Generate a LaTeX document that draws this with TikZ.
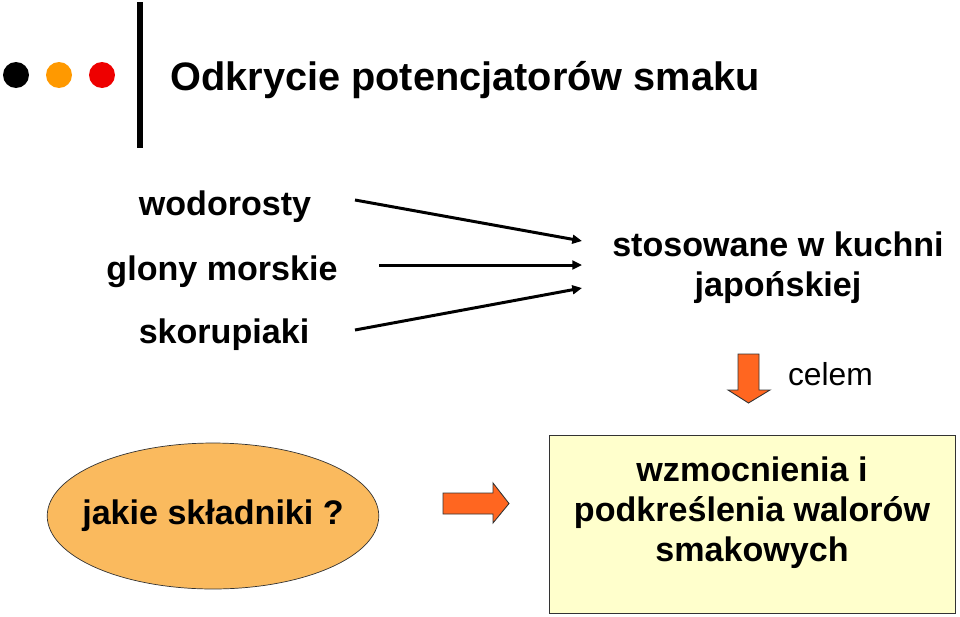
\documentclass[tikz,border=0pt]{standalone}
\usepackage{fontspec}
\setmainfont{Liberation Sans}
\usepackage{xcolor}
\usepackage{tikz}
\usetikzlibrary{positioning,shapes,arrows.meta}

\definecolor{dotorange}{RGB}{255,153,0}
\definecolor{dotred}{RGB}{238,0,0}
\definecolor{ovalfill}{RGB}{250,186,94}
\definecolor{blockfill}{RGB}{255,102,32}
\definecolor{goalfill}{RGB}{255,255,204}

\newcommand{\mainsize}{\fontsize{19.4pt}{22.7pt}\selectfont\bfseries}

\begin{document}
\begin{tikzpicture}[x = 0.02cm, y = -0.02cm,
  word/.style = {anchor = base, font = \mainsize, inner sep = 0pt},
  dot/.style = {circle, inner sep = 0pt, minimum size = 0.52cm},
  blockarrow/.style = {draw = black!80, line width = 0.5pt, fill = blockfill, line join = miter},
  >={Triangle[length = 5.5pt, width = 5pt]}]
  \useasboundingbox (0, 0) rectangle (960, 616);

  % header
  \node[dot, fill = black] (D1) at (16, 75) {};
  \node[dot, fill = dotorange] (D2) at (59, 75) {};
  \node[dot, fill = dotred] (D3) at (102, 75) {};

  \coordinate (B1) at (140, 2);
  \coordinate (B2) at (140, 148);
  \draw[line width = 3.1pt] (B1) -- (B2);

  \node[anchor = base west, inner sep = 0pt, font = \fontsize{22.6pt}{27pt}\selectfont\bfseries] (Title) at (170, 90) {
    Odkrycie potencjatorów smaku
  };

  % sources
  \node[word] (W1) at (225, 215) {
    wodorosty
  };

  \node[word] (W2) at (222, 280) {
    glony morskie
  };

  \node[word] (W3) at (224, 343) {
    skorupiaki
  };

  % base of a two-line node = last line
  \node[word, align = center] (T) at (778, 296) {
    stosowane w kuchni\\japońskiej
  };

  \coordinate (S1) at (355, 200);
  \coordinate (S2) at (379, 265);
  \coordinate (S3) at (355, 330);
  \coordinate (E1) at (582, 241);
  \coordinate (E2) at (582, 265);
  \coordinate (E3) at (582, 288);

  \draw[line width = 1.7pt, ->] (S1) -- (E1);
  \draw[line width = 1.7pt, ->] (S2) -- (E2);
  \draw[line width = 1.7pt, ->] (S3) -- (E3);

  % goal
  \draw[blockarrow] (738, 354) -- (759, 354) -- (759, 390) -- (770, 390)
    -- (748.5, 403) -- (728, 390) -- (738, 390) -- cycle;

  \node[anchor = base, inner sep = 0pt, font = \fontsize{18.1pt}{21pt}\selectfont] (C) at (830.5, 385) {
    celem
  };

  \node[ellipse, draw = black!80, fill = ovalfill, minimum height = 2.92cm,
    inner xsep = -0.27cm, inner ysep = 0pt, font = \mainsize] (Q) at (213, 516) {
    jakie składniki ?
  };

  \draw[blockarrow] (443, 493) -- (493, 493) -- (493, 483) -- (509, 503.5)
    -- (493, 523) -- (493, 514) -- (443, 514) -- cycle;

  \node[draw = black!80, fill = goalfill, minimum width = 8.12cm, minimum height = 3.56cm,
    inner sep = 0pt, align = center, font = \mainsize, text depth = 0.58cm] (G) at (752, 524) {
    wzmocnienia i\\podkreślenia walorów\\smakowych
  };
\end{tikzpicture}
\end{document}
